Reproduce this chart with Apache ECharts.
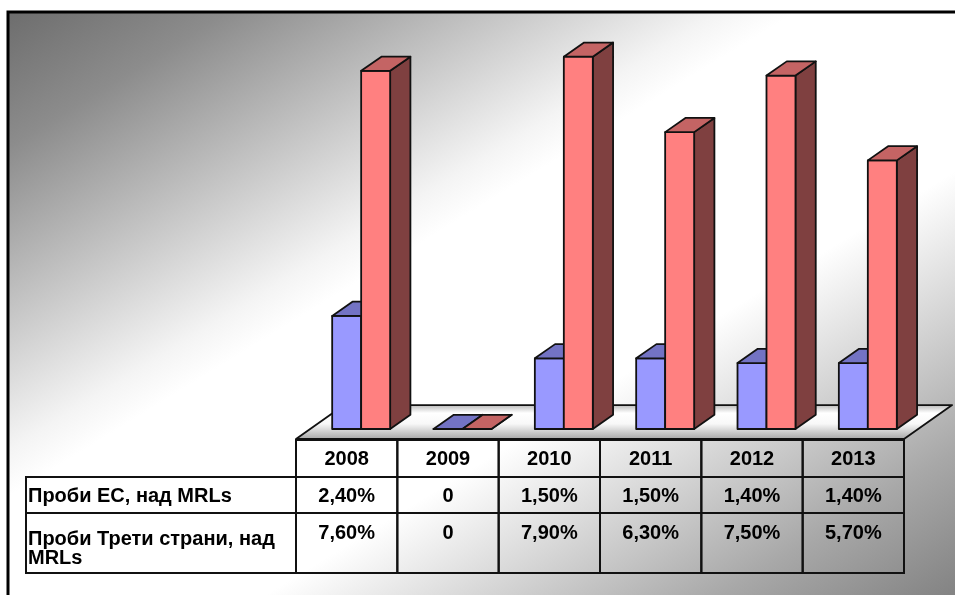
<!DOCTYPE html>
<html>
<head>
<meta charset="utf-8">
<title>Проби над MRLs</title>
<script src="https://cdn.jsdelivr.net/npm/echarts@6.0.0/dist/echarts.min.js"></script>
<style>
  html, body { margin: 0; padding: 0; background: #fff; }
  #chart { width: 955px; height: 595px; }
</style>
</head>
<body>
<div id="chart"></div>
<script>
const years = ['2008', '2009', '2010', '2011', '2012', '2013']
const ecValues = [2.4, 0, 1.5, 1.5, 1.4, 1.4]
const thirdValues = [7.6, 0, 7.9, 6.3, 7.5, 5.7]
const rowNames = ['Проби ЕС, над MRLs', 'Проби Трети страни, над\nMRLs']
const yMax = 8

const blue = { front: '#9999ff', top: '#7373c4', side: '#4d4d80' }
const red = { front: '#ff8080', top: '#c46464', side: '#7f4040' }
const textStyle = { fill: '#000', fontSize: 20, fontWeight: 'bold', fontFamily: '"Liberation Sans", Arial, sans-serif' }
const edge = { stroke: '#111', lineWidth: 1.8, lineJoin: 'round' }

// table rows, measured downward from the zero line of the bars
const tableTop = 11
const rowEdges = [48, 84, 144]

function formatPct(v) {
  return v === 0 ? '0' : v.toFixed(2).replace('.', ',') + '%'
}

// 3D box: side face, front face, top face
function barRenderer(slot, colors) {
  return function (params, api) {
    const i = api.value(0)
    const base = api.coord([i, 0])
    const top = api.coord([i, api.value(1)])
    const band = api.size([1, 0])[0]
    const w = band * 0.286
    const dx = band * 0.2
    const dy = -band * 0.14
    const x0 = base[0] + (slot - 0.5) * w
    const x1 = x0 + w
    const yb = base[1]
    const yt = top[1]
    return {
      type: 'group',
      children: [
        {
          type: 'polygon',
          shape: { points: [[x1, yt], [x1 + dx, yt + dy], [x1 + dx, yb + dy], [x1, yb]] },
          style: Object.assign({ fill: colors.side }, edge)
        },
        {
          type: 'rect',
          shape: { x: x0, y: yt, width: w, height: yb - yt },
          style: Object.assign({ fill: colors.front }, edge)
        },
        {
          type: 'polygon',
          shape: { points: [[x0, yt], [x0 + dx, yt + dy], [x1 + dx, yt + dy], [x1, yt]] },
          style: Object.assign({ fill: colors.top }, edge)
        }
      ]
    }
  }
}

function floorRenderer(params, api) {
  const base = api.coord([0, 0])
  const band = api.size([1, 0])[0]
  const left = base[0] - band / 2
  const right = left + band * years.length
  const yf = base[1] + 10
  const yb = yf - band * 0.335
  const dx = band * 0.475
  return {
    type: 'polygon',
    shape: { points: [[left, yf], [left + dx, yb], [right + dx, yb], [right, yf]] },
    style: Object.assign({
      fill: new echarts.graphic.LinearGradient(0, 0, 0, 1, [
        { offset: 0, color: '#b4b4b4' },
        { offset: 0.25, color: '#ffffff' },
        { offset: 0.55, color: '#f8f8f8' },
        { offset: 1, color: '#a4a4a4' }
      ])
    }, edge)
  }
}

function cellText(text, x, y, align) {
  return {
    type: 'text',
    style: Object.assign({ text: text, x: x, y: y, align: align, verticalAlign: 'middle', lineHeight: 19 }, textStyle)
  }
}

function cellRect(x, y, w, h) {
  return { type: 'rect', shape: { x: x, y: y, width: w, height: h }, style: { fill: 'none', stroke: '#111', lineWidth: 2 } }
}

function tableRenderer(params, api) {
  const i = api.value(0)
  const base = api.coord([i, 0])
  const band = api.size([1, 0])[0]
  const x = base[0] - band / 2
  const y0 = base[1] + tableTop
  const y1 = base[1] + rowEdges[0]
  const y2 = base[1] + rowEdges[1]
  const y3 = base[1] + rowEdges[2]
  return {
    type: 'group',
    children: [
      cellRect(x, y0, band, y1 - y0),
      cellRect(x, y1, band, y2 - y1),
      cellRect(x, y2, band, y3 - y2),
      cellText(years[i], base[0], (y0 + y1) / 2 + 0.5, 'center'),
      cellText(formatPct(api.value(1)), base[0], (y1 + y2) / 2 + 1, 'center'),
      cellText(formatPct(api.value(2)), base[0], y2 + 20, 'center')
    ]
  }
}

function labelRenderer(params, api) {
  const base = api.coord([0, 0])
  const band = api.size([1, 0])[0]
  const right = base[0] - band / 2
  const left = 26
  const y1 = base[1] + rowEdges[0]
  const y2 = base[1] + rowEdges[1]
  const y3 = base[1] + rowEdges[2]
  return {
    type: 'group',
    children: [
      cellRect(left, y1, right - left, y2 - y1),
      cellRect(left, y2, right - left, y3 - y2),
      cellText(rowNames[0], left + 2, (y1 + y2) / 2 + 1, 'left'),
      cellText(rowNames[1], left + 2, y2 + 36, 'left')
    ]
  }
}

const chart = echarts.init(document.getElementById('chart'))

chart.setOption({
  animation: false,
  backgroundColor: '#fff',
  graphic: [
    {
      type: 'rect',
      z: 0,
      silent: true,
      shape: { x: 8, y: 12, width: 1000, height: 1000 },
      style: {
        fill: new echarts.graphic.LinearGradient(220, -123, 740, 723, [
          { offset: 0, color: '#6c6c6c' },
          { offset: 0.12, color: '#8c8c8c' },
          { offset: 0.38, color: '#f4f4f4' },
          { offset: 0.42, color: '#ffffff' },
          { offset: 0.64, color: '#ffffff' },
          { offset: 0.88, color: '#a8a8a8' },
          { offset: 1, color: '#848484' }
        ], true),
        stroke: '#000',
        lineWidth: 3
      }
    }
  ],
  grid: { left: 296, right: 51, top: 52, bottom: 166 },
  xAxis: { type: 'category', data: years, show: false },
  yAxis: { type: 'value', min: 0, max: yMax, show: false },
  series: [
    { type: 'custom', name: 'floor', silent: true, data: [[0, 0]], renderItem: floorRenderer },
    { type: 'custom', name: rowNames[0], data: years.map((y, i) => [i, ecValues[i]]), renderItem: barRenderer(0, blue) },
    { type: 'custom', name: rowNames[1], data: years.map((y, i) => [i, thirdValues[i]]), renderItem: barRenderer(1, red) },
    { type: 'custom', name: 'table', silent: true, data: years.map((y, i) => [i, ecValues[i], thirdValues[i]]), renderItem: tableRenderer },
    { type: 'custom', name: 'labels', silent: true, data: [[0, 0]], renderItem: labelRenderer }
  ]
})
</script>
</body>
</html>
